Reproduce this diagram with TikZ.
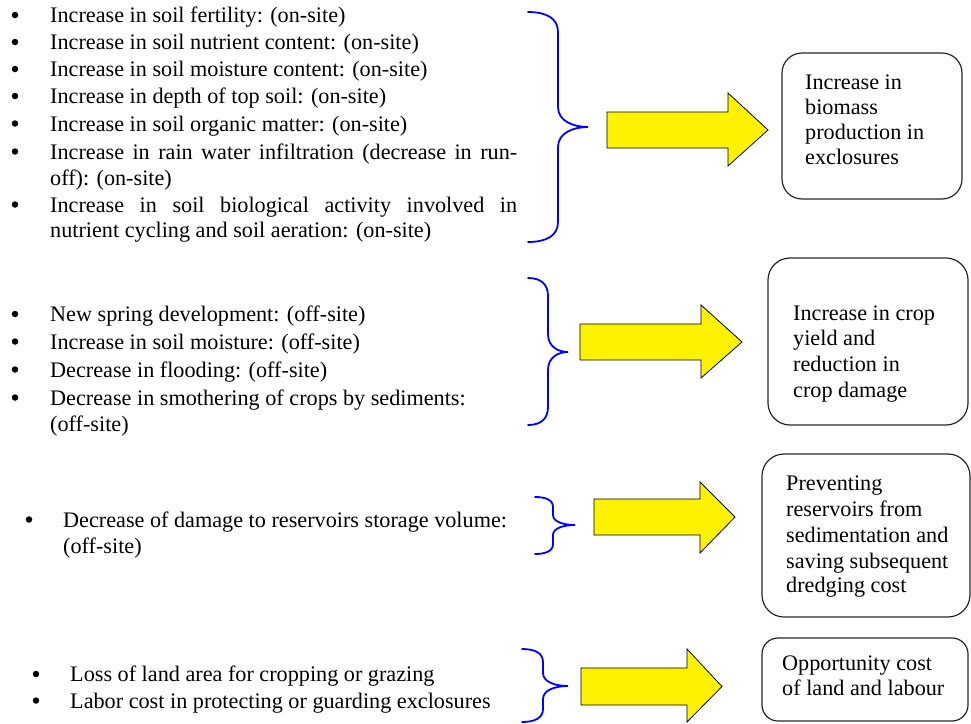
\documentclass[tikz,border=0pt]{standalone}
\usepackage{fontspec}
\setmainfont{Liberation Serif}
\begin{document}
\begin{tikzpicture}[x=1pt,y=-1pt,
  txt/.style={anchor=base west,inner sep=0pt,font=\fontsize{22.2}{26}\selectfont},
  bul/.style={circle,fill=black,inner sep=0pt,minimum size=6.5pt},
  bracepath/.style={draw=blue,line width=1.8pt,line cap=round},
  fatarrow/.style={draw=black,fill=yellow,line width=0.8pt,line join=miter},
  boxline/.style={draw=black!85,line width=1.2pt}]
\useasboundingbox (0,0) rectangle (971,723);
% brace: #1 x end, #2 y top, #3 x vertical, #4 x tip, #5 y tip, #6 y bottom, #7 radius
\newcommand{\mybrace}[7]{%
  \draw[bracepath] (#1,#2) .. controls ({#3-0.4*(#3-#1)},#2) and (#3,{#2+0.3*#7}) .. (#3,{#2+#7})
    -- (#3,{#5-#7}) .. controls (#3,{#5-0.3*#7}) and ({#4-0.5*(#4-#3)},#5) .. (#4,#5)
    .. controls ({#4-0.5*(#4-#3)},#5) and (#3,{#5+0.3*#7}) .. (#3,{#5+#7})
    -- (#3,{#6-#7}) .. controls (#3,{#6-0.3*#7}) and ({#3-0.4*(#3-#1)},#6) .. (#1,#6);
}
\newcommand{\myarrow}[7]{% xbody0, ybody0, ybody1, xhead, yhead0, yhead1, xtip
  \draw[fatarrow] (#1,#2) -- (#4,#2) -- (#4,#5) -- (#7,{(#2+#3)/2}) -- (#4,#6) -- (#4,#3) -- (#1,#3) -- cycle;
}

% ---------- Group 1 ----------
\node[txt] (a1) at (50,22.5) {Increase in soil fertility: (on-site)};
\node[txt] (a2) at (50,49.5) {Increase in soil nutrient content: (on-site)};
\node[txt] (a3) at (50,76.5) {Increase in soil moisture content: (on-site)};
\node[txt] (a4) at (50,103.5) {Increase in depth of top soil: (on-site)};
\node[txt] (a5) at (50,131) {Increase in soil organic matter: (on-site)};
\node[txt] (a6) at (50,159) {\makebox[467pt][s]{Increase in rain water infiltration (decrease in run-}};
\node[txt] (a7) at (50,185) {off): (on-site)};
\node[txt] (a8) at (50,212) {\makebox[467pt][s]{Increase in soil biological activity involved in}};
\node[txt] (a9) at (50,237) {nutrient cycling and soil aeration: (on-site)};
\foreach \y/\n in {22.5/1,49.5/2,76.5/3,103.5/4,131/5,159/6,212/8}
  \node[bul] (ba\n) at (15,\y-7.5) {};

\mybrace{528}{12}{558}{588}{127}{242}{20}
\myarrow{607}{112}{148}{728}{93}{166}{768}
\node[boxline,rounded corners=20pt,minimum width=180pt,minimum height=146pt,inner sep=0pt] (b1) at (872,126) {};
\node[txt] (b1a) at (805,89) {Increase in};
\node[txt] (b1b) at (805,114) {biomass};
\node[txt] (b1c) at (805,139) {production in};
\node[txt] (b1d) at (805,164) {exclosures};

% ---------- Group 2 ----------
\node[txt] (c1) at (50,321.5) {New spring development: (off-site)};
\node[txt] (c2) at (50,349) {Increase in soil moisture: (off-site)};
\node[txt] (c3) at (50,377) {Decrease in flooding: (off-site)};
\node[txt] (c4) at (50,405) {Decrease in smothering of crops by sediments:};
\node[txt] (c5) at (50,431) {(off-site)};
\foreach \y/\n in {321.5/1,349/2,377/3,405/4}
  \node[bul] (bc\n) at (15,\y-7.5) {};

\mybrace{528}{278}{548}{568}{352}{425}{18}
\myarrow{580}{324}{360}{701}{305}{378}{742}
\node[boxline,rounded corners=22pt,minimum width=200pt,minimum height=167pt,inner sep=0pt] (b2) at (868,341.5) {};
\node[txt] (b2a) at (793,320) {Increase in crop};
\node[txt] (b2b) at (793,345) {yield and};
\node[txt] (b2c) at (793,371) {reduction in};
\node[txt] (b2d) at (793,397) {crop damage};

% ---------- Group 3 ----------
\node[txt] (d1) at (63,527) {Decrease of damage to reservoirs storage volume:};
\node[txt] (d2) at (63,553) {(off-site)};
\node[bul] (bd1) at (29,519.5) {};

\mybrace{535}{497}{553}{575}{525}{554}{10}
\myarrow{594}{499}{535}{700}{482}{553}{735}
\node[boxline,rounded corners=22pt,minimum width=208pt,minimum height=163pt,inner sep=0pt] (b3) at (866,535.5) {};
\node[txt] (b3a) at (786,490) {Preventing};
\node[txt] (b3b) at (786,516) {reservoirs from};
\node[txt] (b3c) at (786,542) {sedimentation and};
\node[txt] (b3d) at (786,568) {saving subsequent};
\node[txt] (b3e) at (786,592) {dredging cost};

% ---------- Group 4 ----------
\node[txt] (e1) at (70,681.5) {Loss of land area for cropping or grazing};
\node[txt] (e2) at (70,708) {Labor cost in protecting or guarding exclosures};
\node[bul] (be1) at (36,674) {};
\node[bul] (be2) at (36,700.5) {};

\mybrace{522}{649}{543}{568}{686}{722}{13}
\myarrow{581}{668}{705}{687}{649}{722}{722}
\node[boxline,rounded corners=16pt,minimum width=206pt,minimum height=83pt,inner sep=0pt] (b4) at (865,679.5) {};
\node[txt] (b4a) at (782,670) {Opportunity cost};
\node[txt] (b4b) at (782,695) {of land and labour};
\end{tikzpicture}
\end{document}
